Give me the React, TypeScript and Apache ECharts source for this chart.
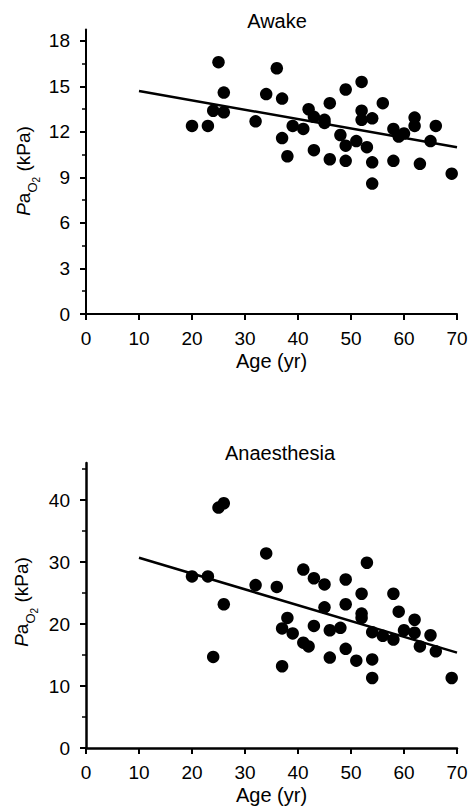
import React, { useEffect, useRef } from "react";
import * as echarts from "echarts";

// ---- Data ----
const awakeAge = [20, 23, 24, 25, 26, 26, 32, 34, 36, 37, 37, 38, 39, 41, 42, 43, 43, 45, 45, 46, 46, 48, 49, 49, 49, 51, 52, 52, 52, 53, 54, 54, 54, 56, 58, 58, 59, 60, 62, 62, 63, 65, 66, 69];
const awakePaO2 = [12.4, 12.4, 13.4, 16.6, 13.3, 14.6, 12.7, 14.5, 16.2, 14.2, 11.6, 10.4, 12.4, 12.2, 13.5, 13.0, 10.8, 12.8, 12.6, 13.9, 10.2, 11.8, 14.8, 11.1, 10.1, 11.4, 15.3, 13.4, 12.8, 11.0, 12.9, 10.0, 8.6, 13.9, 12.2, 10.1, 11.7, 11.9, 12.95, 12.4, 9.9, 11.4, 12.4, 9.25];

const anaesAge = [20, 23, 24, 25, 26, 26, 32, 34, 36, 37, 37, 38, 39, 41, 41, 42, 43, 43, 45, 45, 46, 46, 48, 49, 49, 49, 51, 52, 52, 52, 53, 54, 54, 54, 56, 58, 58, 59, 60, 62, 62, 63, 65, 66, 69];
const anaesPaO2 = [27.7, 27.7, 14.7, 38.8, 39.5, 23.2, 26.3, 31.4, 26.0, 19.3, 13.2, 21.0, 18.5, 28.8, 17.0, 16.4, 27.4, 19.7, 26.4, 22.7, 19.0, 14.6, 19.4, 27.2, 23.2, 16.0, 14.1, 24.9, 21.7, 21.0, 29.9, 18.7, 14.3, 11.3, 18.1, 24.9, 17.5, 22.0, 19.0, 20.7, 18.6, 16.4, 18.2, 15.6, 11.3];

// regression lines: age endpoints and fitted values
const lineAge = [10, 70];
const awakeFit = [14.7, 11.0];
const anaesFit = [30.7, 15.4];

// ticks
const xTicks = [0, 10, 20, 30, 40, 50, 60, 70];
const awakeYTicks = [0, 3, 6, 9, 12, 15, 18];
const awakeYMinor = [1.5, 4.5, 7.5, 10.5, 13.5, 16.5];
const anaesYTicks = [0, 10, 20, 30, 40];
const anaesYMinor = [5, 15, 25, 35, 45];

const titles = ["Awake", "Anaesthesia"];
const xName = "Age (yr)";

const FONT = "'Liberation Sans', Arial, sans-serif";

export default function App() {
  const ref = useRef<HTMLDivElement>(null);

  useEffect(() => {
    if (!ref.current) return;
    const chart = echarts.init(ref.current, undefined, { renderer: "svg" });

    const axisColor = "#000";
    const makeX = (gridIndex: number, lw: number) => ({
      type: "value",
      gridIndex,
      min: 0,
      max: 70,
      interval: 10,
      name: xName,
      nameLocation: "middle",
      nameGap: 37,
      nameTextStyle: { fontSize: 20, color: "#000", fontFamily: FONT },
      axisLine: { show: true, onZero: false, lineStyle: { color: axisColor, width: lw } },
      axisTick: { show: true, length: 6, lineStyle: { color: axisColor, width: 2 }, customValues: xTicks },
      axisLabel: { fontSize: 19, color: "#000", fontFamily: FONT, margin: 15, customValues: xTicks },
      splitLine: { show: false },
    });
    const makeY = (gridIndex: number, max: number, ticks: number[], lw: number) => ({
      type: "value",
      gridIndex,
      min: 0,
      max,
      position: "left",
      axisLine: { show: true, onZero: false, lineStyle: { color: axisColor, width: lw } },
      axisTick: { show: true, length: 6, lineStyle: { color: axisColor, width: 2 }, customValues: ticks },
      axisLabel: { fontSize: 19, color: "#000", fontFamily: FONT, margin: 16, customValues: ticks },
      splitLine: { show: false },
    });
    const makeYMinor = (gridIndex: number, max: number, ticks: number[]) => ({
      type: "value",
      gridIndex,
      min: 0,
      max,
      position: "left",
      offset: 0,
      axisLine: { show: false },
      axisTick: { show: true, length: 4, lineStyle: { color: axisColor, width: 1.5 }, customValues: ticks },
      axisLabel: { show: false },
      splitLine: { show: false },
    });

    const yLabel = (x: number, y: number) => ({
      type: "text",
      x,
      y,
      rotation: Math.PI / 2,
      style: {
        text: "{p|P}{a|a}{o|O}{s|2}{t| (kPa)}",
        textAlign: "center",
        textVerticalAlign: "middle",
        fill: "#000",
        fontFamily: FONT,
        rich: {
          p: { fontSize: 19, fontStyle: "italic", fontFamily: FONT, fill: "#000" },
          a: { fontSize: 19, fontFamily: FONT, fill: "#000" },
          o: { fontSize: 13, fontFamily: FONT, fill: "#000", padding: [18, 0, 0, 0] },
          s: { fontSize: 10, fontFamily: FONT, fill: "#000", padding: [27, 0, 0, 0] },
          t: { fontSize: 19, fontFamily: FONT, fill: "#000" },
        },
      },
    });

    const titleText = (text: string, x: number, y: number) => ({
      type: "text",
      x,
      y,
      style: {
        text,
        textAlign: "center",
        textVerticalAlign: "middle",
        fontSize: 20,
        fontFamily: FONT,
        fill: "#000",
      },
    });

    const toPairs = (xs: number[], ys: number[]) => xs.map((v, i) => [v, ys[i]]);

    chart.setOption({
      animation: false,
      backgroundColor: "#fff",
      grid: [
        { left: 86, top: 29.6, width: 371, height: 284.4, containLabel: false },
        { left: 86, top: 463, width: 371, height: 285, containLabel: false },
      ],
      xAxis: [makeX(0, 2), makeX(1, 2.5)],
      yAxis: [
        makeY(0, 18.75, awakeYTicks, 2),
        makeYMinor(0, 18.75, awakeYMinor),
        makeY(1, 46, anaesYTicks, 2.5),
        makeYMinor(1, 46, anaesYMinor),
      ],
      series: [
        {
          type: "scatter",
          xAxisIndex: 0,
          yAxisIndex: 0,
          symbol: "circle",
          symbolSize: 12.5,
          itemStyle: { color: "#000", opacity: 1 },
          data: toPairs(awakeAge, awakePaO2),
        },
        {
          type: "line",
          xAxisIndex: 0,
          yAxisIndex: 0,
          symbol: "none",
          lineStyle: { color: "#000", width: 2.5 },
          data: toPairs(lineAge, awakeFit),
        },
        {
          type: "scatter",
          xAxisIndex: 1,
          yAxisIndex: 2,
          symbol: "circle",
          symbolSize: 12.5,
          itemStyle: { color: "#000", opacity: 1 },
          data: toPairs(anaesAge, anaesPaO2),
        },
        {
          type: "line",
          xAxisIndex: 1,
          yAxisIndex: 2,
          symbol: "none",
          lineStyle: { color: "#000", width: 2.5 },
          data: toPairs(lineAge, anaesFit),
        },
      ],
      graphic: [
        titleText(titles[0], 277, 21),
        titleText(titles[1], 280, 453),
        yLabel(23, 171),
        yLabel(21, 602),
      ],
    });

    return () => chart.dispose();
  }, []);

  return (
    <div
      ref={ref}
      style={{ position: "absolute", left: 0, top: 0, width: 473, height: 806, background: "#fff" }}
    />
  );
}
